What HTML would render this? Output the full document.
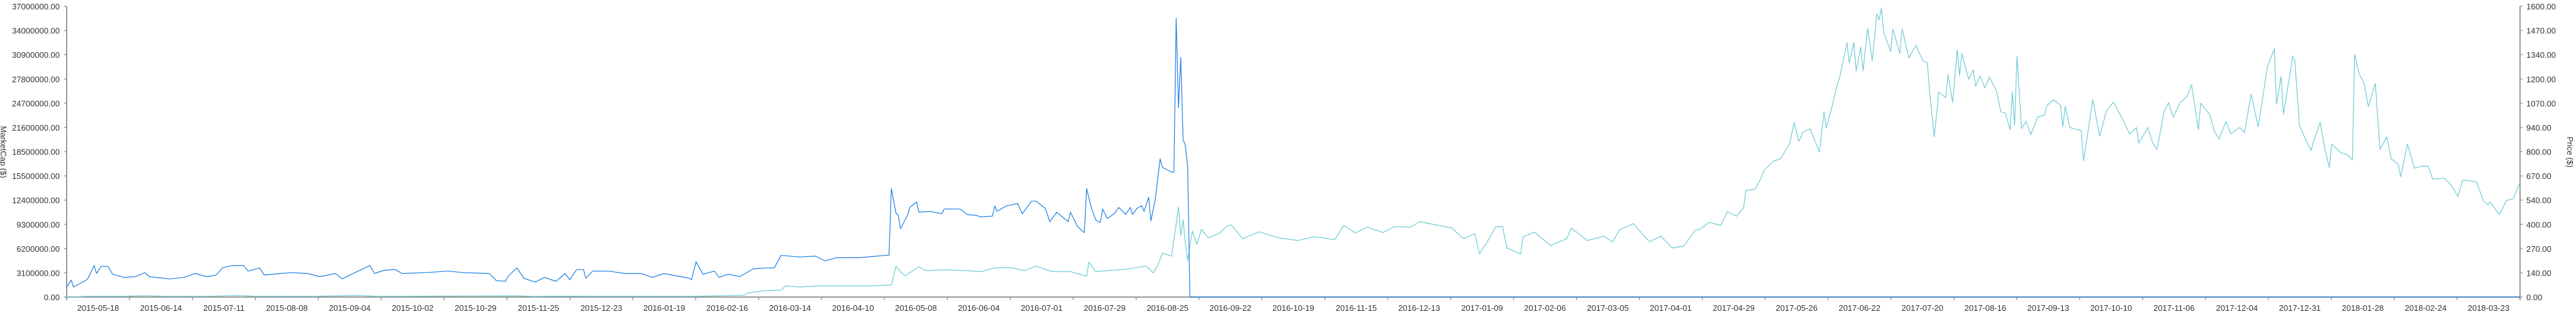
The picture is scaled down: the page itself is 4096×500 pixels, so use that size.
<!DOCTYPE html>
<html><head><meta charset="utf-8">
<style>
html,body{margin:0;padding:0;background:#fff;}
svg{display:block;font-family:"Liberation Sans",sans-serif;}
.tick{font-size:13px;fill:#333;}
</style></head>
<body>
<svg id="chart" width="4096" height="500" viewBox="0 0 4096 500" xmlns="http://www.w3.org/2000/svg">
<g id="axes"></g>
<g id="series"></g>
<text class="tick" transform="translate(1,242) rotate(90)" text-anchor="middle">MarketCap ($)</text>
<text class="tick" transform="translate(4082,242) rotate(90)" text-anchor="middle">Price ($)</text>
</svg>
<script>
const xLabels=["2015-05-18","2015-06-14","2015-07-11","2015-08-08","2015-09-04","2015-10-02","2015-10-29","2015-11-25","2015-12-23","2016-01-19","2016-02-16","2016-03-14","2016-04-10","2016-05-08","2016-06-04","2016-07-01","2016-07-29","2016-08-25","2016-09-22","2016-10-19","2016-11-15","2016-12-13","2017-01-09","2017-02-06","2017-03-05","2017-04-01","2017-04-29","2017-05-26","2017-06-22","2017-07-20","2017-08-16","2017-09-13","2017-10-10","2017-11-06","2017-12-04","2017-12-31","2018-01-28","2018-02-24","2018-03-23"];
const leftTicks=["0.00","3100000.00","6200000.00","9300000.00","12400000.00","15500000.00","18500000.00","21600000.00","24700000.00","27800000.00","30900000.00","34000000.00","37000000.00"];
const rightTicks=["0.00","140.00","270.00","400.00","540.00","670.00","800.00","940.00","1070.00","1200.00","1340.00","1470.00","1600.00"];
const totalDays=1068;
const capMax=37;
const priceMax=1600;
// market cap (millions $) by day index
const capDay=[0,2,3,9,12,13,15,18,20,25,30,34,36,45,51,56,61,65,68,72,77,79,84,86,93,98,105,110,117,120,124,132,134,138,143,146,156,166,173,184,187,191,192,196,199,204,208,213,217,219,222,225,226,229,236,243,250,255,260,271,272,274,277,282,284,288,293,299,305,308,311,319,326,330,335,345,356,358,359,361,362,363,366,367,370,371,376,381,382,389,392,396,398,403,404,405,409,414,416,420,422,426,428,431,433,436,437,440,443,444,446,448,450,451,453,456,458,461,463,464,466,468,469,471,472,474,476,477,481,482,483,484,485,486,487,488,489,1068];
const capValue=[1.28,2.16,1.28,2.24,4.0,3.0,3.9,3.9,2.9,2.5,2.6,3.1,2.6,2.3,2.5,3.0,2.6,2.8,3.75,4.0,4.0,3.3,3.7,2.8,3.0,3.1,3.0,2.6,3.0,2.3,2.9,4.0,3.0,3.4,3.5,3.0,3.1,3.3,3.1,3.0,2.1,2.0,2.6,3.7,2.4,1.9,2.5,2.0,3.0,2.2,3.5,3.5,2.4,3.3,3.3,3.0,3.0,2.5,3.0,2.4,2.2,4.5,2.9,3.3,2.5,2.9,2.6,3.6,3.7,3.7,5.3,5.1,5.2,4.6,5.0,5.0,5.3,5.35,13.8,10.7,10.4,8.7,10.4,11.4,12.1,10.8,10.9,10.6,11.2,11.2,10.5,10.4,10.2,10.3,11.6,10.9,11.6,11.9,10.6,12.2,12.2,11.3,9.6,10.8,10.3,9.6,10.8,9.0,8.2,13.8,11.4,9.8,9.5,11.2,10.0,10.6,11.4,10.5,11.4,10.5,11.3,11.6,10.9,12.7,9.7,12.6,17.6,16.5,15.9,15.9,35.5,24.1,30.5,20.0,19.3,16.5,0,0];
// price ($) by day index
const priceDay=[0,5,7,26,34,42,61,70,75,81,108,127,135,196,204,209,272,295,297,304,311,313,319,327,338,351,359,361,363,365,371,374,382,392,398,404,411,417,422,429,437,444,445,448,453,461,470,473,475,477,481,484,485,486,487,488,490,492,494,497,502,505,507,512,519,528,536,543,552,556,561,566,573,578,585,589,596,603,608,613,615,619,622,625,627,633,634,639,646,653,655,662,669,673,676,682,689,694,699,704,709,711,715,720,723,727,730,731,735,737,739,743,746,750,752,754,756,759,763,765,766,769,770,772,775,776,778,779,781,782,784,786,788,789,790,791,794,795,798,799,802,805,808,810,811,813,815,818,819,821,823,824,825,828,830,831,833,835,837,840,842,844,846,847,848,849,851,853,855,858,861,862,865,868,869,870,872,877,878,882,885,888,891,893,895,898,901,902,906,908,910,913,915,917,920,923,925,928,929,933,935,937,940,942,946,948,951,954,956,958,961,962,964,965,968,969,970,972,975,977,978,981,983,985,986,990,993,995,996,998,1000,1002,1005,1007,1010,1012,1015,1016,1019,1022,1025,1028,1030,1035,1038,1041,1043,1046,1049,1052,1054,1055,1059,1062,1065,1068];
const priceValue=[0,0.5,4,5,8,4,4,8,9,5,4,9,4,7,3,5,4,10,24,35,38,62,55,62,62,62,66,169,140,117,166,145,150,145,140,160,162,145,170,140,140,114,193,140,145,153,170,133,173,242,225,494,339,425,297,200,363,290,373,325,353,390,397,321,359,325,311,332,316,394,352,385,355,387,385,415,397,380,321,349,238,316,385,390,270,237,332,357,283,321,380,311,335,304,369,404,304,335,270,280,369,373,411,394,470,445,491,587,594,640,698,748,760,843,961,856,909,926,797,1019,930,1072,1131,1217,1400,1290,1400,1244,1375,1244,1479,1300,1559,1525,1590,1458,1351,1475,1340,1475,1317,1386,1300,1290,1127,881,1127,1098,1223,1070,1360,1220,1340,1198,1250,1160,1217,1150,1210,1138,1019,1013,921,1127,944,1325,927,967,893,990,1002,1054,1085,1054,938,1050,933,915,748,1087,886,1025,1073,1025,979,898,933,847,933,852,812,1019,1070,990,1070,1104,1168,921,1067,1002,910,870,967,898,933,904,1117,938,1098,1265,1365,1061,1214,1007,1237,1326,1296,944,858,806,852,961,817,713,841,794,783,754,1336,1227,1180,1048,1175,812,881,760,731,662,841,709,720,720,648,654,616,553,643,640,634,530,507,524,453,530,541,634];

const NS="http://www.w3.org/2000/svg";
const X0=106,X1=4007,Y0=473,Y1=10;
const xScale=d=>X0+d/totalDays*(X1-X0);
const yCap=v=>Y0-v/capMax*(Y0-Y1);
const yPrice=v=>Y0-v/priceMax*(Y0-Y1);
const axes=document.getElementById('axes');
const series=document.getElementById('series');
function mk(tag,attrs,parent){const e=document.createElementNS(NS,tag);for(const k in attrs)e.setAttribute(k,attrs[k]);parent.appendChild(e);return e;}

let l=mk('line',{x1:X0,y1:Y1,x2:X0,y2:Y0+5,stroke:'#999','stroke-width':2},axes);


l=mk('line',{x1:X1,y1:Y1,x2:X1,y2:Y0+5,stroke:'#999','stroke-width':2},axes);


l=mk('line',{x1:X0,y1:Y0,x2:X1,y2:Y0,stroke:'#999','stroke-width':2},axes);



const n=leftTicks.length-1;
leftTicks.forEach((t,i)=>{
  const y=Y0-i*(Y0-Y1)/n;
  const tk=mk('line',{x1:X0-4,y1:y,x2:X0,y2:y,stroke:'#999','stroke-width':1.5},axes);
  
  
  const tx=mk('text',{x:X0-11,y:y+5,'text-anchor':'end',class:'tick'},axes);
  tx.textContent=t;
  
  
});
rightTicks.forEach((t,i)=>{
  const y=Y0-i*(Y0-Y1)/n;
  const tk=mk('line',{x1:X1,y1:y,x2:X1+4,y2:y,stroke:'#999','stroke-width':1.5},axes);
  
  
  const tx=mk('text',{x:X1+10,y:y+5,'text-anchor':'start',class:'tick'},axes);
  tx.textContent=t;
  
  
});
const step=(X1-X0)/(xLabels.length);
for(let i=0;i<=xLabels.length;i++){
  const x=X0+i*step;
  const tk=mk('line',{x1:x,y1:Y0,x2:x,y2:Y0+5,stroke:'#999','stroke-width':1.5},axes);
  
  
}
xLabels.forEach((t,i)=>{
  const tx=mk('text',{x:X0+(i+0.5)*step,y:495,'text-anchor':'middle',class:'tick'},axes);
  tx.textContent=t;
  
  
});

let pd=priceDay.map((d,i)=>(i?'L':'M')+xScale(d).toFixed(1)+','+yPrice(priceValue[i]).toFixed(1)).join('');
const pp=mk('path',{d:pd,fill:'none',stroke:'#6ccbd3','stroke-width':1.2,'stroke-linejoin':'round'},series);


let cd=capDay.map((d,i)=>(i?'L':'M')+xScale(d).toFixed(1)+','+yCap(capValue[i]).toFixed(1)).join('');
const cp=mk('path',{d:cd,fill:'none',stroke:'#1c7fe0','stroke-width':1.2,'stroke-linejoin':'round'},series);


</script>
</body></html>
